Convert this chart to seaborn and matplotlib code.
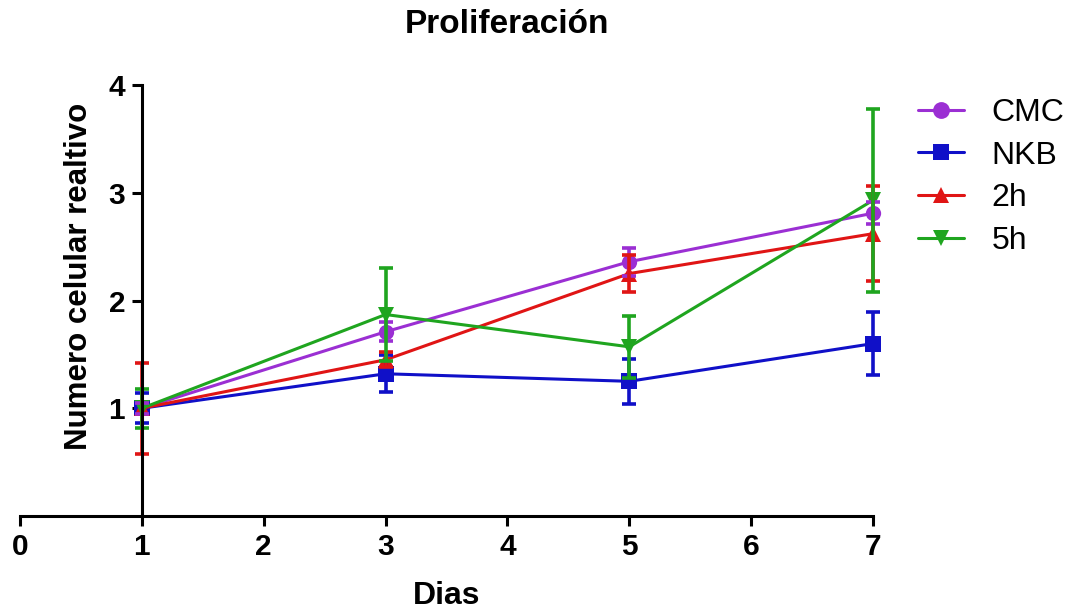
import pandas as pd
import matplotlib.pyplot as plt
import seaborn as sns
from matplotlib.lines import Line2D
from matplotlib.collections import LineCollection

# datos
dias = [1, 3, 5, 7]
grupos = ["CMC", "NKB", "2h", "5h"]
cmc = [1.00, 1.71, 2.36, 2.81]
cmc_err = [0.05, 0.09, 0.13, 0.10]
nkb = [1.00, 1.32, 1.25, 1.60]
nkb_err = [0.14, 0.17, 0.21, 0.29]
h2 = [1.00, 1.45, 2.25, 2.62]
h2_err = [0.42, 0.07, 0.17, 0.44]
h5 = [1.00, 1.87, 1.57, 2.93]
h5_err = [0.18, 0.43, 0.29, 0.85]

colores = {"CMC": "#9B2FD3", "NKB": "#1010C8", "2h": "#E01515", "5h": "#1FA51F"}
marcadores = {"CMC": "o", "NKB": "s", "2h": "^", "5h": "v"}

valores = {"CMC": (cmc, cmc_err), "NKB": (nkb, nkb_err), "2h": (h2, h2_err), "5h": (h5, h5_err)}
filas = []
for g in grupos:
    for d, v, e in zip(dias, valores[g][0], valores[g][1]):
        filas.append({"dia": d, "valor": v, "err": e, "grupo": g})
df = pd.DataFrame(filas)

sns.set_style("ticks")
plt.rcParams["font.family"] = ["Liberation Sans", "DejaVu Sans"]
for k in ["text.color", "axes.labelcolor", "xtick.color", "ytick.color", "axes.edgecolor"]:
    plt.rcParams[k] = "black"

fig = plt.figure(figsize=(10.73, 6.15), dpi=100)
ax = fig.add_axes([20 / 1073, 1 - 516 / 615, 853 / 1073, 431 / 615])

sns.lineplot(data=df, x="dia", y="valor", hue="grupo", style="grupo",
             hue_order=grupos, style_order=grupos, palette=colores,
             markers=marcadores, dashes=False, markersize=11, linewidth=2.2,
             markeredgewidth=0, ax=ax)

for g in grupos:
    sub = df[df["grupo"] == g]
    ax.errorbar(sub["dia"], sub["valor"], yerr=sub["err"], fmt="none",
                ecolor=colores[g], elinewidth=2.6, capsize=5, capthick=2.6)

# que no se corten las barras del dia 7
for art in ax.get_children():
    if isinstance(art, (Line2D, LineCollection)):
        art.set_clip_on(False)

ax.set_xlim(0, 7)
ax.set_ylim(0, 4)
ax.set_xticks(range(0, 8))
ax.set_yticks([1, 2, 3, 4])
ax.spines["left"].set_position(("data", 1))
ax.spines["top"].set_visible(False)
ax.spines["right"].set_visible(False)
for s in ["left", "bottom"]:
    ax.spines[s].set_linewidth(2.2)
ax.tick_params(axis="both", width=2.2, length=7, labelsize=21.5, pad=5)
for lbl in ax.get_xticklabels() + ax.get_yticklabels():
    lbl.set_fontweight("bold")

ax.set_xlabel("Dias", fontsize=23, fontweight="bold")
ax.set_ylabel("Numero celular realtivo", fontsize=22.5, fontweight="bold")
ax.xaxis.set_label_coords(0.5, -0.15)
ax.yaxis.set_label_coords(0.087, 0.555)

fig.text(0.4725, 0.946, "Proliferación", ha="center", va="baseline",
         fontsize=24, fontweight="bold")

handles, labels = ax.get_legend_handles_labels()
ax.get_legend().remove()
fig.legend(handles, labels, loc="upper left", bbox_to_anchor=(0.8555, 0.841),
           frameon=False, fontsize=23, handlelength=1.45, handletextpad=0.85,
           labelspacing=0.4, borderpad=0, borderaxespad=0, markerscale=1.1)

plt.savefig("out.png", dpi=100)
plt.close()
